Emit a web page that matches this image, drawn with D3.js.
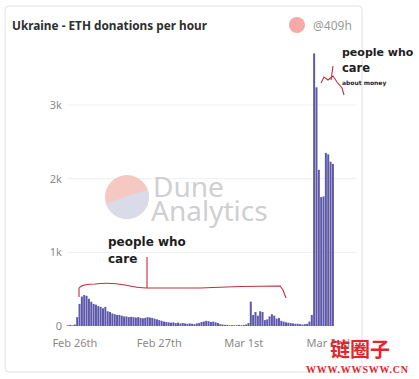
<!DOCTYPE html>
<html><head><meta charset="utf-8">
<script src="https://cdn.jsdelivr.net/npm/d3@7"></script>
<style>html,body{margin:0;padding:0;background:#fff;}svg{display:block;}</style>
</head><body>
<svg id="c" width="419" height="379"></svg>
<script>
const title = "Ukraine - ETH donations per hour";
const handle = "@409h";
// hourly ETH donations (index 0 = a few hours before Feb 26th)
const values = [
  10,15,10,20,120,300,400,420,410,370,
  330,300,290,270,260,240,260,200,190,170,
  160,150,150,140,130,130,120,125,120,115,
  120,110,105,110,120,115,110,100,90,80,
  70,60,55,50,45,50,40,45,35,40,
  35,30,35,30,25,35,40,55,60,70,
  65,55,60,50,40,25,20,15,15,10,
  12,10,10,15,10,15,20,40,330,150,
  190,140,200,190,80,90,130,160,140,100,
  110,70,60,50,45,40,35,30,30,25,
  20,25,30,60,150,3700,3240,2120,1750,1760,
  2350,2330,2230,2200
];
const tickIndex = [3, 39, 75, 111];
const tickLabels = ["Feb 26th", "Feb 27th", "Mar 1st", "Mar 2nd"];
const yTicks = [0, 1000, 2000, 3000];

const svg = d3.select("#c");
const font = "'Noto Sans', 'Open Sans', sans-serif";

// card
svg.append("rect").attr("x",5).attr("y",6).attr("width",357).attr("height",366)
  .attr("rx",4).attr("fill","#fff").attr("stroke","#e2e2e2");

svg.append("text").attr("x",12).attr("y",30).text(title)
  .attr("font-family",font).attr("font-weight",700).attr("font-size",11.8).attr("fill","#2e2e2e");
svg.append("circle").attr("cx",297).attr("cy",25).attr("r",8).attr("fill","#f6aaa8");
svg.append("text").attr("x",313).attr("y",30).text(handle)
  .attr("font-family",font).attr("font-size",12).attr("fill","#9a9a9a");

const idx = values.map((d,i)=>i);
const x = d3.scaleBand().domain(idx).range([66.8, 333.9]).paddingInner(0.15);
const y = d3.scaleLinear().domain([0,3000]).range([326,105]);

// grid
svg.append("g").selectAll("line").data(yTicks.filter(d=>d>0)).join("line")
  .attr("x1",68).attr("x2",356).attr("y1",d=>y(d)).attr("y2",d=>y(d))
  .attr("stroke","#efefef").attr("stroke-width",1);

// watermark
const wm = svg.append("g");
const cx=127, cy=197, r=22;
wm.append("circle").attr("cx",cx).attr("cy",cy).attr("r",r).attr("fill","#f5c9c2");
const clip = svg.append("clipPath").attr("id","wc");
clip.append("circle").attr("cx",cx).attr("cy",cy).attr("r",r);
wm.append("path").attr("clip-path","url(#wc)")
  .attr("d",`M${cx-r-2},${cy+8} Q${cx},${cy-2} ${cx+r+2},${cy-8} L${cx+r+2},${cy+r+2} L${cx-r-2},${cy+r+2} Z`)
  .attr("fill","#d9dbe8");
wm.append("text").attr("x",153).attr("y",197).text("Dune")
  .attr("font-family",font).attr("font-size",28).attr("fill","#cfcfd2");
wm.append("text").attr("x",151).attr("y",221).text("Analytics")
  .attr("font-family",font).attr("font-size",28).attr("fill","#cfcfd2");

// bars
svg.append("g").selectAll("rect").data(values).join("rect")
  .attr("x",(d,i)=>x(i)).attr("width",x.bandwidth())
  .attr("y",d=>y(d)).attr("height",d=>y(0)-y(d))
  .attr("fill","#5d59a8");

// y axis labels
svg.append("g").selectAll("text").data(yTicks).join("text")
  .attr("x",62).attr("y",d=>y(d)+4).attr("text-anchor","end")
  .text(d=>d===0?"0":(d/1000)+"k")
  .attr("font-family",font).attr("font-size",11).attr("fill","#8a8a8a");

// x axis labels
svg.append("g").selectAll("text").data(tickIndex).join("text")
  .attr("x",d=>x(d)+x.bandwidth()/2).attr("y",347).attr("text-anchor","middle")
  .text((d,i)=>tickLabels[i])
  .attr("font-family",font).attr("font-size",11).attr("fill","#8a8a8a");

// hand-drawn annotations
const ann = svg.append("g").attr("fill","none").attr("stroke","#c0303a").attr("stroke-width",1.1);
ann.append("path").attr("d","M79,297 L79,288 Q82,284 95,284 Q110,282 125,285 Q138,288 147,288 L200,288 Q240,286 280,286 L283,290 L286,298");
ann.append("path").attr("d","M147,257 L147,288");
ann.append("path").attr("d","M333,66 L331,80");
ann.append("path").attr("d","M321,83 L324,77 L328,80 L333,76 L337,82 L342,88 L344,95");

const af = "'DejaVu Sans', 'Open Sans', sans-serif";
svg.append("text").attr("x",108).attr("y",246).text("people who")
  .attr("font-family",af).attr("font-weight",700).attr("font-size",12).attr("fill","#1e1e1e");
svg.append("text").attr("x",108).attr("y",263).text("care")
  .attr("font-family",af).attr("font-weight",700).attr("font-size",12).attr("fill","#1e1e1e");
svg.append("text").attr("x",342).attr("y",56).text("people who")
  .attr("font-family",af).attr("font-weight",700).attr("font-size",11).attr("fill","#1e1e1e");
svg.append("text").attr("x",342).attr("y",72).text("care")
  .attr("font-family",af).attr("font-weight",700).attr("font-size",11.5).attr("fill","#1e1e1e");
svg.append("text").attr("x",342).attr("y",85).text("about money")
  .attr("font-family",af).attr("font-weight",700).attr("font-size",6).attr("fill","#1e1e1e");

// site watermark
svg.append("text").attr("x",330).attr("y",357).text("链圈子")
  .attr("font-family","'Noto Sans CJK SC', sans-serif").attr("font-weight",700).attr("font-size",20).attr("fill","#e3262c");
svg.append("text").attr("x",306).attr("y",373).text("WWW.WWSWW.CN")
  .attr("font-family","'Liberation Serif', serif").attr("font-weight",700).attr("font-size",10).attr("letter-spacing",0.8).attr("fill","#e3262c");
</script>
</body></html>
